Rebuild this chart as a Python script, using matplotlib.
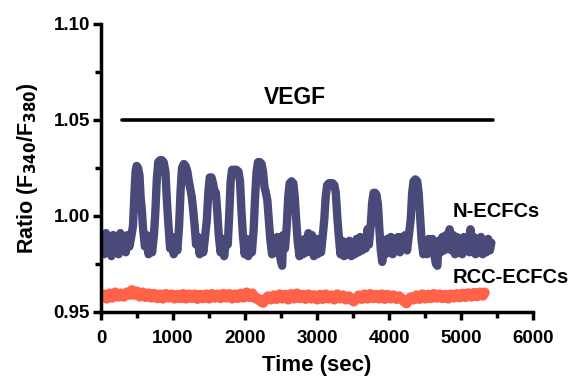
import matplotlib.pyplot as plt
from matplotlib.ticker import MultipleLocator, FormatStrFormatter

plt.rcParams['font.family'] = ['Liberation Sans', 'DejaVu Sans']
plt.rcParams['font.weight'] = 'bold'

# N-ECFCs trace (time in sec, ratio F340/F380)
n_time = [0, 20, 45, 70, 95, 120, 145, 170, 195, 220, 245, 270, 295, 320, 345, 370, 395, 420,
          445, 465, 480, 495, 515, 535, 550, 565, 585, 610, 635, 660, 685, 710, 735,
          755, 775, 795, 820, 845, 870, 895, 915, 935, 960, 985, 1010, 1035, 1060, 1085,
          1105, 1125, 1150, 1175, 1200, 1220, 1240, 1260, 1280, 1300, 1320, 1345, 1370, 1395, 1420, 1445, 1470,
          1490, 1510, 1535, 1555, 1575, 1595, 1615, 1635, 1660, 1685, 1710, 1735, 1760,
          1780, 1800, 1820, 1850, 1880, 1910, 1930, 1950, 1970, 1995, 2020, 2045, 2070, 2095, 2120,
          2140, 2160, 2180, 2205, 2230, 2250, 2270, 2290, 2310, 2330, 2350, 2375, 2400, 2425, 2450, 2475,
          2500, 2515, 2530, 2555, 2580,
          2600, 2620, 2645, 2670, 2690, 2710, 2730, 2755, 2780, 2805, 2830, 2855, 2880, 2905, 2930, 2955,
          2980, 3005, 3030, 3055, 3080, 3100,
          3120, 3140, 3165, 3190, 3215, 3240, 3260, 3280, 3300, 3325, 3350, 3375, 3400, 3425, 3450, 3475,
          3500, 3525, 3550, 3575, 3600, 3625, 3650, 3675, 3700, 3720,
          3745, 3765, 3785, 3805, 3825, 3845, 3865, 3885, 3905, 3925, 3950, 3975, 4000, 4025, 4050, 4075,
          4100, 4125, 4150, 4175, 4200, 4225, 4250, 4275, 4300,
          4320, 4340, 4365, 4390, 4410, 4430, 4450, 4475, 4500, 4525, 4550, 4575, 4600, 4625, 4650, 4670,
          4690, 4715, 4740, 4765, 4790, 4815, 4840, 4865, 4890, 4915, 4940, 4965, 4990, 5015, 5040, 5065,
          5090, 5115, 5130, 5150, 5175, 5200, 5225, 5250, 5275, 5300, 5325, 5350, 5375, 5400, 5420]
n_ratio = [0.985, 0.990, 0.980, 0.991, 0.982, 0.989, 0.979, 0.990, 0.983, 0.988, 0.980, 0.991, 0.982, 0.989, 0.981, 0.990, 0.984, 0.989,
           0.995, 1.012, 1.023, 1.026, 1.025, 1.021, 1.010, 1.004, 0.993, 0.984, 0.990, 0.980, 0.988, 0.981, 0.990,
           1.002, 1.019, 1.028, 1.029, 1.029, 1.028, 1.023, 1.008, 0.996, 0.983, 0.989, 0.980, 0.988, 0.982, 0.995,
           1.013, 1.025, 1.027, 1.026, 1.023, 1.018, 1.014, 1.010, 1.003, 0.995, 0.985, 0.989, 0.980, 0.988, 0.981, 0.989, 0.998,
           1.012, 1.020, 1.020, 1.017, 1.013, 1.012, 1.002, 0.990, 0.981, 0.988, 0.979, 0.987, 0.985,
           1.000, 1.018, 1.024, 1.024, 1.024, 1.023, 1.018, 1.003, 0.990, 0.980, 0.988, 0.979, 0.987, 0.981, 0.993,
           1.010, 1.023, 1.028, 1.028, 1.027, 1.023, 1.015, 1.012, 1.008, 0.998, 0.988, 0.980, 0.988, 0.981, 0.989, 0.982,
           0.976, 0.974, 0.990, 0.983, 0.995,
           1.010, 1.017, 1.018, 1.017, 1.010, 0.998, 0.987, 0.979, 0.987, 0.980, 0.988, 0.981, 0.991, 0.982, 0.990, 0.979,
           0.988, 0.980, 0.988, 0.981, 0.990, 0.998,
           1.010, 1.016, 1.017, 1.017, 1.017, 1.016, 1.012, 1.000, 0.990, 0.980, 0.987, 0.979, 0.986, 0.980, 0.987, 0.979,
           0.986, 0.980, 0.988, 0.981, 0.989, 0.982, 0.988, 0.983, 0.993, 0.985,
           0.995, 1.007, 1.012, 1.012, 1.011, 1.006, 0.993, 0.982, 0.976, 0.986, 0.980, 0.988, 0.981, 0.989, 0.980, 0.988,
           0.982, 0.989, 0.981, 0.989, 0.983, 0.990, 0.982, 0.990, 0.998,
           1.012, 1.018, 1.019, 1.018, 1.012, 1.000, 0.988, 0.980, 0.987, 0.980, 0.988, 0.981, 0.988, 0.980, 0.975, 0.974,
           0.987, 0.981, 0.989, 0.982, 0.990, 0.983, 0.993, 0.982, 0.990, 0.980, 0.989, 0.981, 0.988, 0.980, 0.989, 0.982,
           0.988, 0.981, 0.993, 0.982, 0.989, 0.980, 0.988, 0.981, 0.989, 0.980, 0.987, 0.981, 0.988, 0.982, 0.986]

# RCC-ECFCs trace
rcc_time = [0, 40, 80, 120, 160, 200, 240, 280, 320, 360, 400, 430, 460, 500, 540, 580, 620, 660, 700, 740,
            780, 820, 860, 900, 940, 980, 1020, 1060, 1100, 1140, 1180, 1220, 1260, 1300, 1340, 1380, 1420,
            1460, 1500, 1540, 1580, 1620, 1660, 1700, 1740, 1780, 1820, 1860, 1900, 1940, 1980, 2020, 2060,
            2100, 2140, 2180, 2220, 2250, 2280, 2320, 2360, 2400, 2440, 2480, 2520, 2560, 2600, 2640, 2680,
            2720, 2760, 2800, 2840, 2880, 2920, 2960, 3000, 3040, 3080, 3120, 3160, 3200, 3240, 3280, 3320,
            3360, 3400, 3440, 3480, 3510, 3540, 3580, 3620, 3660, 3700, 3740, 3780, 3820, 3860, 3900, 3940,
            3980, 4020, 4060, 4100, 4140, 4180, 4210, 4240, 4270, 4300, 4340, 4380, 4420, 4460, 4500, 4540,
            4580, 4620, 4660, 4700, 4740, 4780, 4820, 4860, 4900, 4940, 4980, 5020, 5060, 5100, 5140, 5180,
            5220, 5260, 5300, 5325]
rcc_ratio = [0.9575, 0.9590, 0.9570, 0.9595, 0.9575, 0.9600, 0.9580, 0.9595, 0.9580, 0.9600, 0.9590, 0.9612, 0.9590,
             0.9605, 0.9580, 0.9600, 0.9578, 0.9595, 0.9575, 0.9593, 0.9572, 0.9590, 0.9570, 0.9592, 0.9575,
             0.9590, 0.9570, 0.9588, 0.9572, 0.9592, 0.9570, 0.9590, 0.9573, 0.9590, 0.9568, 0.9588, 0.9572,
             0.9590, 0.9570, 0.9592, 0.9574, 0.9590, 0.9572, 0.9593, 0.9575, 0.9592, 0.9570, 0.9590, 0.9573,
             0.9594, 0.9575, 0.9600, 0.9578, 0.9595, 0.9572, 0.9568, 0.9555, 0.9548, 0.9565, 0.9580, 0.9565,
             0.9585, 0.9568, 0.9590, 0.9570, 0.9588, 0.9565, 0.9592, 0.9570, 0.9595, 0.9572, 0.9588, 0.9568,
             0.9590, 0.9570, 0.9586, 0.9565, 0.9588, 0.9568, 0.9590, 0.9570, 0.9585, 0.9565, 0.9590, 0.9570,
             0.9585, 0.9565, 0.9580, 0.9562, 0.9555, 0.9568, 0.9585, 0.9568, 0.9590, 0.9570, 0.9592, 0.9572,
             0.9588, 0.9570, 0.9590, 0.9568, 0.9588, 0.9570, 0.9585, 0.9568, 0.9580, 0.9565, 0.9555, 0.9545,
             0.9560, 0.9575, 0.9565, 0.9585, 0.9568, 0.9590, 0.9570, 0.9588, 0.9572, 0.9592, 0.9574, 0.9590,
             0.9572, 0.9588, 0.9570, 0.9590, 0.9575, 0.9592, 0.9576, 0.9594, 0.9578, 0.9596, 0.9580, 0.9598,
             0.9582, 0.9600, 0.9585, 0.9600]

vegf_start, vegf_end, vegf_level = 290, 5440, 1.05

navy = '#4a4a7a'
salmon = '#ff6149'

fig = plt.figure(figsize=(5.77, 3.78), dpi=100)
ax = fig.add_axes([0.175, 0.175, 0.749, 0.762])

ax.plot(n_time, n_ratio, color=navy, lw=6, solid_joinstyle='round', solid_capstyle='round')
ax.plot(rcc_time, rcc_ratio, color=salmon, lw=7.5, solid_joinstyle='round', solid_capstyle='round')

# VEGF application bar
ax.plot([vegf_start, vegf_end], [vegf_level, vegf_level], color='black', lw=2.6, solid_capstyle='round')
ax.text(2690, 1.0555, 'VEGF', ha='center', va='bottom', fontsize=16.5, fontweight='bold')

ax.text(4880, 1.002, 'N-ECFCs', ha='left', va='center', fontsize=14.5, fontweight='bold')
ax.text(4880, 0.9677, 'RCC-ECFCs', ha='left', va='center', fontsize=14.5, fontweight='bold', clip_on=False)

ax.set_xlim(0, 6000)
ax.set_ylim(0.95, 1.10)
ax.xaxis.set_major_locator(MultipleLocator(1000))
ax.xaxis.set_minor_locator(MultipleLocator(500))
ax.yaxis.set_major_locator(MultipleLocator(0.05))
ax.yaxis.set_minor_locator(MultipleLocator(0.025))
ax.yaxis.set_major_formatter(FormatStrFormatter('%.2f'))

for side in ['top', 'right']:
    ax.spines[side].set_visible(False)
for side in ['left', 'bottom']:
    ax.spines[side].set_linewidth(2.5)
ax.tick_params(which='major', length=6, width=2.5, labelsize=13.5)
ax.tick_params(axis='x', which='major', pad=7)
ax.tick_params(axis='y', which='major', pad=2)
ax.tick_params(which='minor', length=4, width=2.5)

ax.set_xlabel('Time (sec)', fontsize=16, fontweight='bold', labelpad=6)
ax.set_ylabel('Ratio (F$_{\\mathbf{340}}$/F$_{\\mathbf{380}}$)', fontsize=15.5, fontweight='bold', labelpad=10)

fig.savefig('out.png', dpi=100)
